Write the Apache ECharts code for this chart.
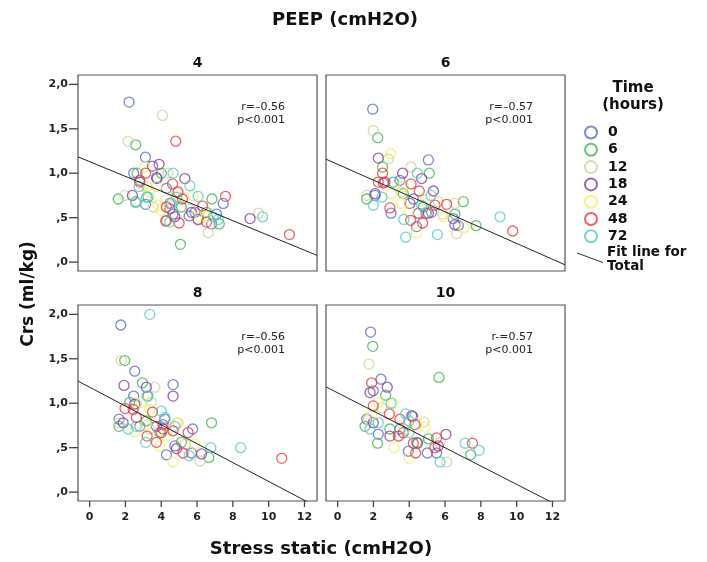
<!DOCTYPE html>
<html>
<head>
<meta charset="utf-8">
<script src="https://cdn.jsdelivr.net/npm/echarts@6/dist/echarts.min.js"></script>
<style>
  html, body { margin: 0; padding: 0; background: #fff; }
  #chart { width: 707px; height: 562px; }
</style>
</head>
<body>
<div id="chart"></div>
<script>
// Time points (hours) and PEEP levels (cmH2O)
const hours = ['0', '6', '12', '18', '24', '48', '72'];
const peepLevels = ['4', '6', '8', '10'];

// Stress static (cmH2O) vs Crs (ml/kg), one list per time point, per PEEP level
const peep4 = [
  [[2.20,1.80],[3.12,1.18],[2.46,1.00],[3.13,0.65],[4.29,0.83],[4.48,0.66],[4.66,0.54],[5.56,0.52],[6.81,0.43],[7.09,0.54],[7.46,0.66],[5.88,0.56],[3.77,0.94]],
  [[2.57,1.32],[1.60,0.71],[2.65,1.00],[4.01,1.00],[5.07,0.20],[6.83,0.71],[7.24,0.43],[6.53,0.56],[5.13,0.62],[3.26,0.73],[2.57,0.68],[4.29,0.47]],
  [[4.07,1.65],[2.15,1.36],[1.96,0.75],[6.62,0.33],[9.44,0.55],[4.38,1.00],[5.60,0.60],[3.21,0.85],[6.06,0.47],[4.85,0.79],[3.54,0.62]],
  [[3.88,1.10],[3.51,1.08],[3.74,0.95],[5.32,0.94],[2.39,0.75],[2.80,0.90],[8.96,0.49],[6.06,0.48],[4.48,0.60],[4.76,0.51],[5.69,0.56]],
  [[3.08,1.07],[4.01,0.58],[3.74,0.85],[5.78,0.75],[3.32,0.79],[2.99,0.85],[4.29,0.70],[3.82,0.64],[6.53,0.51],[4.94,0.73],[6.16,0.51]],
  [[4.81,1.36],[3.13,1.00],[2.80,0.92],[4.63,0.88],[4.94,0.79],[5.18,0.71],[6.31,0.63],[7.59,0.74],[11.16,0.31],[5.00,0.44],[4.25,0.46],[6.53,0.45],[4.29,0.62]],
  [[4.66,1.00],[2.57,0.67],[2.76,0.85],[5.60,0.86],[6.06,0.74],[9.66,0.51],[7.18,0.48],[4.48,0.45],[4.85,0.73],[4.57,0.66],[3.17,0.73],[6.90,0.51]]
];
const peep6 = [
  [[1.96,1.72],[5.07,1.15],[2.98,0.55],[4.41,0.40],[6.46,0.49],[6.74,0.41],[2.09,0.75],[4.23,0.71],[3.48,0.92],[5.25,0.56]],
  [[2.24,1.40],[2.51,1.07],[5.12,1.00],[7.02,0.68],[7.73,0.41],[1.62,0.71],[3.11,0.90],[6.55,0.54],[4.79,0.62],[3.67,0.77]],
  [[1.99,1.48],[2.83,1.16],[4.10,1.07],[1.62,0.75],[6.55,0.66],[6.65,0.32],[5.87,0.54],[5.62,0.68],[3.57,0.79]],
  [[2.27,1.17],[3.63,1.00],[4.69,0.94],[5.35,0.80],[2.09,0.77],[4.51,0.55],[6.55,0.42],[2.64,0.90],[5.07,0.55],[4.04,0.66]],
  [[2.96,1.22],[3.57,0.66],[4.41,0.33],[7.06,0.39],[3.67,0.85],[3.02,0.77],[4.88,0.70],[4.00,0.56],[5.90,0.51]],
  [[2.51,1.00],[2.27,0.90],[4.10,0.88],[4.56,0.80],[5.44,0.64],[6.09,0.65],[2.92,0.61],[4.08,0.47],[4.75,0.44],[9.78,0.35],[4.94,0.55],[2.55,0.89]],
  [[4.45,1.00],[1.99,0.64],[3.70,0.48],[3.80,0.28],[5.57,0.31],[9.07,0.51],[5.21,0.75],[2.47,0.73],[4.69,0.64],[4.97,0.56]]
];
const peep8 = [
  [[1.74,1.88],[2.52,1.36],[4.66,1.21],[2.46,1.08],[1.64,0.82],[4.29,0.42],[5.75,0.71],[5.69,0.44],[4.20,0.82],[2.80,0.74],[4.76,0.52]],
  [[1.96,1.48],[2.95,1.23],[3.26,1.08],[6.81,0.78],[6.66,0.39],[1.64,0.74],[2.24,1.01],[3.92,0.67],[5.13,0.56],[3.17,0.80]],
  [[1.77,1.48],[3.64,1.18],[3.45,1.01],[4.94,0.78],[6.16,0.35],[1.64,0.78],[3.36,0.71],[5.32,0.54],[2.61,0.99]],
  [[1.92,1.20],[3.17,1.18],[4.66,1.08],[2.52,0.99],[1.87,0.78],[4.85,0.49],[6.25,0.43],[4.10,0.71],[3.73,0.74]],
  [[2.89,1.01],[2.52,0.68],[4.66,0.34],[3.92,0.52],[5.88,0.54],[3.17,0.76],[4.85,0.78],[3.36,0.93],[4.29,0.63]],
  [[1.98,0.94],[2.61,0.84],[3.51,0.90],[3.21,0.63],[3.73,0.56],[4.01,0.67],[4.66,0.69],[5.50,0.67],[5.22,0.44],[10.73,0.38],[4.10,0.76],[2.43,0.93]],
  [[3.36,2.00],[4.01,0.91],[3.21,1.08],[2.15,0.71],[3.13,0.56],[5.56,0.41],[6.77,0.50],[8.43,0.50],[4.76,0.74],[4.20,0.84],[2.61,0.74]]
];
const peep10 = [
  [[1.84,1.80],[2.42,1.27],[1.99,1.14],[1.62,0.82],[4.19,0.85],[3.95,0.46],[5.01,0.44],[5.53,0.44],[2.27,0.65],[3.48,0.71]],
  [[1.96,1.64],[5.66,1.29],[2.68,1.09],[2.23,0.55],[7.43,0.42],[1.53,0.74],[2.92,0.71],[5.07,0.60],[4.41,0.56]],
  [[1.75,1.44],[2.46,0.95],[4.82,0.79],[6.09,0.34],[1.71,0.82],[3.48,0.63],[5.72,0.56]],
  [[1.81,1.12],[2.77,1.18],[4.14,0.86],[6.05,0.65],[1.99,0.78],[2.92,0.63],[4.47,0.55],[5.62,0.52],[3.67,0.67]],
  [[3.11,1.00],[2.27,1.01],[4.88,0.73],[3.99,0.38],[3.15,0.50],[1.90,0.88],[3.76,0.71],[4.41,0.78]],
  [[1.90,1.23],[1.99,0.97],[2.89,0.88],[3.48,0.82],[4.32,0.76],[5.53,0.61],[7.53,0.55],[4.36,0.44],[3.39,0.63],[4.23,0.55],[5.43,0.50]],
  [[2.98,1.00],[1.81,0.71],[3.99,0.80],[7.12,0.55],[7.90,0.47],[5.72,0.34],[3.80,0.88],[2.27,0.78],[3.99,0.67]]
];

// Linear fit for all time points together, per PEEP level
const fitSlope = [-0.083, -0.089, -0.106, -0.103];
const fitIntercept = [1.130, 1.100, 1.180, 1.117];
const fitR = ['r=\u20130.56', 'r=\u20130.57', 'r=\u20130.56', 'r-=0.57'];
const fitP = ['p<0.001', 'p<0.001', 'p<0.001', 'p<0.001'];

// Axis tick values
const xTicks = [0, 2, 4, 6, 8, 10, 12];
const yTicks = [0, 0.5, 1.0, 1.5, 2.0];
const yTickLabels = [',0', ',5', '1,0', '1,5', '2,0'];

const panelData = [peep4, peep6, peep8, peep10];
const timeColors = ['#5a6ccc', '#3db84c', '#d6cf9e', '#8a3c9c', '#f2ee5c', '#ee3a3a', '#55c9c9'];

const X_MIN = -0.65, X_MAX = 12.7, Y_MIN = -0.1, Y_MAX = 2.105;
const FONT = 'DejaVu Sans';
const FRAME = '#555';
const TICK = '#444';

// Panel rectangles: [left, top]
const panelPos = [[78, 75], [326, 75], [78, 305], [326, 305]];
const PW = 239, PH = 196;

const chart = echarts.init(document.getElementById('chart'), null, { renderer: 'canvas' });

const grids = [], xAxes = [], yAxes = [], series = [], graphics = [];

panelPos.forEach(([l, t], p) => {
  const isLeft = p % 2 === 0;
  const isBottom = p >= 2;
  grids.push({ left: l, top: t, width: PW, height: PH, show: true,
    borderColor: FRAME, borderWidth: 1.2, backgroundColor: 'transparent' });
  xAxes.push({
    type: 'value', gridIndex: p, min: X_MIN, max: X_MAX, position: 'bottom',
    axisLine: { show: false, onZero: false }, splitLine: { show: false },
    axisTick: { show: false },
    axisLabel: { show: isBottom, customValues: xTicks, margin: 11,
      fontFamily: FONT, fontSize: 11, fontWeight: 'bold', color: '#222' }
  });
  yAxes.push({
    type: 'value', gridIndex: p, min: Y_MIN, max: Y_MAX, position: 'left',
    axisLine: { show: false, onZero: false }, splitLine: { show: false },
    axisTick: { show: false },
    axisLabel: { show: isLeft, customValues: yTicks, margin: 10,
      fontFamily: FONT, fontSize: 11, fontWeight: 'bold', color: '#222',
      formatter: v => {
        const i = yTicks.findIndex(t => Math.abs(t - v) < 1e-6);
        return i >= 0 ? yTickLabels[i] : '';
      } }
  });

  hours.forEach((h, k) => {
    series.push({
      type: 'scatter', name: h, xAxisIndex: p, yAxisIndex: p,
      data: panelData[p][k], symbol: 'circle', symbolSize: 10,
      itemStyle: { color: 'rgba(255,255,255,0)', borderColor: timeColors[k], borderWidth: 1.3 },
      emphasis: { disabled: true }, z: 2
    });
  });

  series.push({
    type: 'line', name: 'fit', xAxisIndex: p, yAxisIndex: p,
    data: [[X_MIN, fitIntercept[p] + fitSlope[p] * X_MIN],
           [X_MAX, fitIntercept[p] + fitSlope[p] * X_MAX]],
    symbol: 'none', clip: true, silent: true,
    lineStyle: { color: '#222', width: 1 }, z: 3
  });

  // Outward tick marks on the panel frame (left and bottom edges of outer panels)
  if (isLeft) {
    yTicks.forEach(v => {
      const py = t + PH - (v - Y_MIN) / (Y_MAX - Y_MIN) * PH;
      graphics.push({ type: 'line',
        shape: { x1: l - 9, y1: py, x2: l, y2: py },
        style: { stroke: TICK, lineWidth: 1.3 } });
    });
  }
  if (isBottom) {
    xTicks.forEach(v => {
      const px = l + (v - X_MIN) / (X_MAX - X_MIN) * PW;
      graphics.push({ type: 'line',
        shape: { x1: px, y1: t + PH, x2: px, y2: t + PH + 6 },
        style: { stroke: TICK, lineWidth: 1.3 } });
    });
  }

  // Panel header (PEEP level)
  graphics.push({ type: 'text', x: l + PW / 2, y: t - 12,
    style: { text: peepLevels[p], align: 'center', verticalAlign: 'middle',
      font: 'bold 14px "DejaVu Sans"', fill: '#111' } });
  // Correlation annotation
  graphics.push({ type: 'text', x: l + 207, y: t + 26,
    style: { text: fitR[p] + '\n' + fitP[p], align: 'right', verticalAlign: 'top',
      font: '11px "DejaVu Sans"', lineHeight: 12.5, fill: '#222' } });
});

// Titles
graphics.push({ type: 'text', x: 345, y: 20,
  style: { text: 'PEEP (cmH2O)', align: 'center', verticalAlign: 'middle',
    font: 'bold 18px "DejaVu Sans"', fill: '#111' } });
graphics.push({ type: 'text', x: 321, y: 549,
  style: { text: 'Stress static (cmH2O)', align: 'center', verticalAlign: 'middle',
    font: 'bold 18px "DejaVu Sans"', fill: '#111' } });
graphics.push({ type: 'text', x: 29, y: 294, rotation: Math.PI / 2,
  style: { text: 'Crs (ml/kg)', align: 'center', verticalAlign: 'middle',
    font: 'bold 17px "DejaVu Sans"', fill: '#111' } });

// Legend header and fit-line entry
graphics.push({ type: 'text', x: 633, y: 96.5,
  style: { text: 'Time\n(hours)', align: 'center', verticalAlign: 'middle',
    font: 'bold 15px "DejaVu Sans"', lineHeight: 16.5, fill: '#111' } });
graphics.push({ type: 'line', shape: { x1: 577, y1: 253, x2: 603, y2: 262.5 },
  style: { stroke: '#333', lineWidth: 1 } });
graphics.push({ type: 'text', x: 607, y: 259,
  style: { text: 'Fit line for\nTotal', align: 'left', verticalAlign: 'middle',
    font: 'bold 13.5px "DejaVu Sans"', lineHeight: 14, fill: '#111' } });

chart.setOption({
  animation: false,
  backgroundColor: '#fff',
  grid: grids,
  xAxis: xAxes,
  yAxis: yAxes,
  legend: {
    data: hours, orient: 'vertical', left: 579, top: 120.5,
    itemWidth: 12, itemHeight: 12, itemGap: 3.3, selectedMode: false,
    textStyle: { fontFamily: FONT, fontSize: 14, fontWeight: 'bold', color: '#111',
      lineHeight: 12, padding: [0, 0, 0, 6] }
  },
  series: series,
  graphic: graphics
});
</script>
</body>
</html>
